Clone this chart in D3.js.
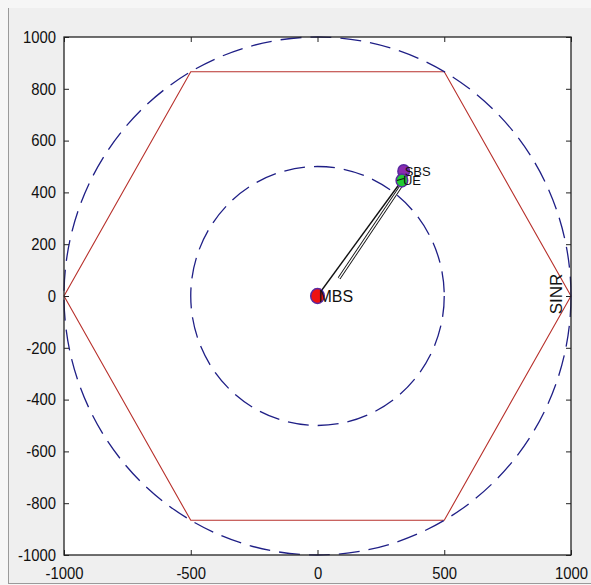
<!DOCTYPE html>
<html>
<head>
<meta charset="utf-8">
<script src="https://d3js.org/d3.v7.min.js"></script>
<style>
  html, body { margin: 0; padding: 0; background: #f6f6f6; }
  svg { display: block; }
  text { font-family: "Liberation Sans", Arial, sans-serif; fill: #111; }
</style>
</head>
<body>
<script>
// tick values
const xTicks = [-1000, -500, 0, 500, 1000];
const yTicks = [-1000, -800, -600, -400, -200, 0, 200, 400, 600, 800, 1000];

// hexagon cell outline (corners)
const hexX = [1000, 500, -500, -1000, -500, 500, 1000];
const hexY = [0, 866, 866, 0, -866, -866, 0];

// coverage circles
const circleR = [500, 1000];

// base stations / user
const nodeNames = ['MBS', 'SBS', 'UE'];
const nodeX = [0, 340, 333];
const nodeY = [0, 482, 446];
const nodeFill = ['#ee1111', '#8a2ab0', '#22cc33'];
const nodeSize = [7.5, 6.5, 6.5];
const labelSize = [16, 13, 13];

// links: solid MBS -> UE, plus the double-stroked one next to it
const linkX1 = [0, 85];
const linkY1 = [0, 68];
const linkX2 = [333, 330];
const linkY2 = [446, 425];
const linkStyle = ['solid', 'double'];

const width = 591, height = 585;
const margin = { left: 64, right: 20, top: 37, bottom: 30 };
const plotRight = 571, plotBottom = 555;

const svg = d3.select('body').append('svg')
  .attr('width', width)
  .attr('height', height);

// figure background with window edge
svg.append('rect')
  .attr('x', 8).attr('y', 8)
  .attr('width', width - 8).attr('height', 575)
  .attr('fill', '#efefef');
svg.append('line')
  .attr('x1', 8.5).attr('x2', 8.5).attr('y1', 8).attr('y2', 583)
  .attr('stroke', '#9a9a9a');
svg.append('line')
  .attr('x1', 8).attr('x2', width).attr('y1', 583.5).attr('y2', 583.5)
  .attr('stroke', '#9a9a9a');

const x = d3.scaleLinear().domain([-1000, 1000]).range([margin.left, plotRight]);
const y = d3.scaleLinear().domain([-1000, 1000]).range([plotBottom, margin.top]);

// axes area
svg.append('rect')
  .attr('x', x(-1000)).attr('y', y(1000))
  .attr('width', x(1000) - x(-1000)).attr('height', y(-1000) - y(1000))
  .attr('fill', '#ffffff');

const plot = svg.append('g');

// hexagon
const hexPts = hexX.map((d, i) => [d, hexY[i]]);
plot.append('path')
  .attr('d', d3.line().x(d => x(d[0])).y(d => y(d[1]))(hexPts))
  .attr('fill', 'none')
  .attr('stroke', '#b8312c')
  .attr('stroke-width', 1.1);

// dashed circles
plot.selectAll('ellipse.cov')
  .data(circleR)
  .enter().append('ellipse')
  .attr('class', 'cov')
  .attr('cx', x(0))
  .attr('cy', y(0))
  .attr('rx', d => x(d) - x(0))
  .attr('ry', d => y(0) - y(d))
  .attr('fill', 'none')
  .attr('stroke', '#1f1f86')
  .attr('stroke-width', 1.3)
  .attr('stroke-dasharray', '21,9');

// links
linkStyle.forEach((s, i) => {
  if (s === 'double') {
    plot.append('line')
      .attr('x1', x(linkX1[i])).attr('y1', y(linkY1[i]))
      .attr('x2', x(linkX2[i])).attr('y2', y(linkY2[i]))
      .attr('stroke', '#111').attr('stroke-width', 3.2);
    plot.append('line')
      .attr('x1', x(linkX1[i])).attr('y1', y(linkY1[i]))
      .attr('x2', x(linkX2[i])).attr('y2', y(linkY2[i]))
      .attr('stroke', '#fff').attr('stroke-width', 1.4);
  } else {
    plot.append('line')
      .attr('x1', x(linkX1[i])).attr('y1', y(linkY1[i]))
      .attr('x2', x(linkX2[i])).attr('y2', y(linkY2[i]))
      .attr('stroke', '#111').attr('stroke-width', 1.4);
  }
});

// markers
plot.selectAll('ellipse.node')
  .data(nodeNames)
  .enter().append('ellipse')
  .attr('class', 'node')
  .attr('cx', (d, i) => x(nodeX[i]))
  .attr('cy', (d, i) => y(nodeY[i]))
  .attr('rx', (d, i) => nodeSize[i] - 0.7)
  .attr('ry', (d, i) => nodeSize[i])
  .attr('fill', (d, i) => nodeFill[i])
  .attr('stroke', '#5a2aa0')
  .attr('stroke-width', 1.5);

// small line tip on the UE marker
plot.append('line')
  .attr('x1', x(nodeX[2]) - 5).attr('y1', y(nodeY[2]))
  .attr('x2', x(nodeX[2]) + 2).attr('y2', y(nodeY[2]) - 2)
  .attr('stroke', '#111').attr('stroke-width', 1.2);

// labels
plot.selectAll('text.lab')
  .data(nodeNames)
  .enter().append('text')
  .attr('class', 'lab')
  .attr('x', (d, i) => x(nodeX[i]) + 1)
  .attr('y', (d, i) => y(nodeY[i]))
  .attr('dy', '0.36em')
  .style('font-size', (d, i) => labelSize[i] + 'px')
  .text(d => d);

plot.append('text')
  .attr('transform', `translate(${x(1000) - 9},${y(0) - 2}) rotate(-90)`)
  .attr('text-anchor', 'middle')
  .style('font-size', '17px')
  .text('SINR');

// axes with inward ticks on all four sides
const tickLen = 5;
svg.append('g')
  .attr('transform', `translate(0,${plotBottom})`)
  .call(d3.axisBottom(x).tickValues(xTicks).tickFormat(d => String(d))
    .tickSizeInner(-tickLen).tickSizeOuter(0).tickPadding(12));
svg.append('g')
  .attr('transform', `translate(${margin.left},0)`)
  .call(d3.axisLeft(y).tickValues(yTicks).tickFormat(d => String(d))
    .tickSizeInner(-tickLen).tickSizeOuter(0).tickPadding(9));
svg.append('g')
  .attr('transform', `translate(0,${margin.top})`)
  .call(d3.axisTop(x).tickValues(xTicks).tickFormat('')
    .tickSizeInner(-tickLen).tickSizeOuter(0));
svg.append('g')
  .attr('transform', `translate(${plotRight},0)`)
  .call(d3.axisRight(y).tickValues(yTicks).tickFormat('')
    .tickSizeInner(-tickLen).tickSizeOuter(0));

svg.selectAll('.domain').remove();
svg.selectAll('.tick line').attr('stroke', '#222');
svg.selectAll('.tick text')
  .style('font-size', '16.5px')
  .style('font-family', '"Liberation Sans", Arial, sans-serif')
  .attr('fill', '#111')
  .attr('transform', 'scale(0.9,1)');

// axes box
svg.append('rect')
  .attr('x', x(-1000)).attr('y', y(1000))
  .attr('width', x(1000) - x(-1000)).attr('height', y(-1000) - y(1000))
  .attr('fill', 'none')
  .attr('stroke', '#222')
  .attr('stroke-width', 1.3);
</script>
</body>
</html>
